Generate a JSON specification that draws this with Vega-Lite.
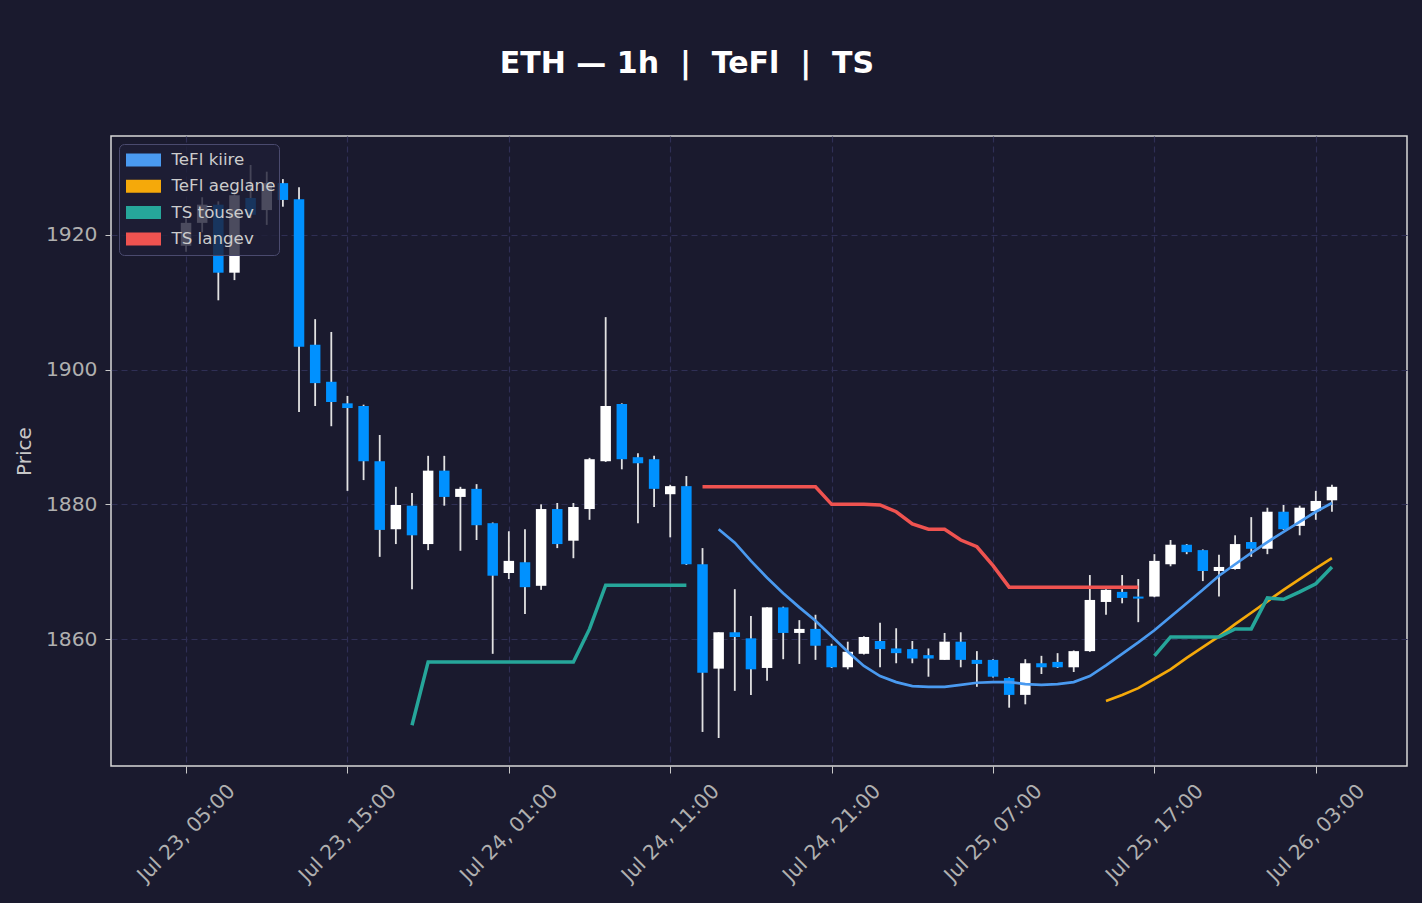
{
  "$schema": "https://vega.github.io/schema/vega-lite/v6.json",
  "width": 1296,
  "height": 630,
  "autosize": {"type": "none"},
  "padding": {"left": 111, "top": 136, "right": 15, "bottom": 137},
  "background": "#1a1a2e",
  "config": {
    "font": "DejaVu Sans",
    "view": {"stroke": "#d8d8d8", "strokeWidth": 1.5, "fill": "#1a1a2e"},
    "axis": {
      "domain": false,
      "grid": true,
      "gridColor": "#2f2f55",
      "gridDash": [6, 4],
      "gridWidth": 1.2,
      "tickColor": "#c8c8c8",
      "labelColor": "#b0b0b0",
      "labelFontSize": 20.3,
      "titleColor": "#c8c8c8",
      "titleFontSize": 20,
      "titleFontWeight": "normal"
    },
    "legend": {
      "orient": "top-left",
      "offset": 8,
      "padding": 3,
      "fillColor": "rgba(30,30,54,0.8)",
      "strokeColor": "#4a4a6e",
      "cornerRadius": 5,
      "labelColor": "#cccccc",
      "labelFontSize": 16.7,
      "labelOffset": 4,
      "symbolType": "stroke",
      "symbolSize": 1225,
      "symbolStrokeWidth": 13,
      "symbolOffset": -2.5,
      "clipHeight": 26,
      "rowPadding": 0.3,
      "symbolOpacity": 1
    }
  },
  "title": {
    "text": "ETH — 1h\u00a0\u00a0|\u00a0\u00a0TeFl\u00a0\u00a0|\u00a0\u00a0TS",
    "color": "#ffffff",
    "fontSize": 30,
    "fontWeight": "bold",
    "font": "DejaVu Sans",
    "anchor": "middle",
    "frame": "group",
    "dx": -72,
    "offset": 57
  },
  "datasets": {
    "candles": [
      {"t": "2023-07-23T05:00", "o": 1918.4, "h": 1922.5, "l": 1917.5, "c": 1921.8},
      {"t": "2023-07-23T06:00", "o": 1921.8, "h": 1925.6, "l": 1920.4, "c": 1924.5},
      {"t": "2023-07-23T07:00", "o": 1924.5, "h": 1925.0, "l": 1910.3, "c": 1914.4},
      {"t": "2023-07-23T08:00", "o": 1914.4, "h": 1926.5, "l": 1913.3, "c": 1925.9},
      {"t": "2023-07-23T09:00", "o": 1925.5, "h": 1930.4, "l": 1922.5, "c": 1923.0},
      {"t": "2023-07-23T10:00", "o": 1923.7, "h": 1929.4, "l": 1921.5, "c": 1927.7},
      {"t": "2023-07-23T11:00", "o": 1927.7, "h": 1928.3, "l": 1924.2, "c": 1925.2},
      {"t": "2023-07-23T12:00", "o": 1925.3, "h": 1927.1, "l": 1893.7, "c": 1903.4},
      {"t": "2023-07-23T13:00", "o": 1903.7, "h": 1907.5, "l": 1894.6, "c": 1898.0},
      {"t": "2023-07-23T14:00", "o": 1898.2, "h": 1905.6, "l": 1891.6, "c": 1895.2},
      {"t": "2023-07-23T15:00", "o": 1895.0, "h": 1896.1, "l": 1882.0, "c": 1894.3},
      {"t": "2023-07-23T16:00", "o": 1894.6, "h": 1894.8, "l": 1883.6, "c": 1886.4},
      {"t": "2023-07-23T17:00", "o": 1886.4, "h": 1890.3, "l": 1872.2, "c": 1876.2},
      {"t": "2023-07-23T18:00", "o": 1876.3, "h": 1882.6, "l": 1874.1, "c": 1879.9},
      {"t": "2023-07-23T19:00", "o": 1879.8, "h": 1881.7, "l": 1867.4, "c": 1875.4},
      {"t": "2023-07-23T20:00", "o": 1874.1, "h": 1887.2, "l": 1873.2, "c": 1885.0},
      {"t": "2023-07-23T21:00", "o": 1885.0, "h": 1887.2, "l": 1879.8, "c": 1881.1},
      {"t": "2023-07-23T22:00", "o": 1881.1, "h": 1882.6, "l": 1873.1, "c": 1882.3},
      {"t": "2023-07-23T23:00", "o": 1882.3, "h": 1883.0, "l": 1874.7, "c": 1876.9},
      {"t": "2023-07-24T00:00", "o": 1877.2, "h": 1877.3, "l": 1857.8, "c": 1869.4},
      {"t": "2023-07-24T01:00", "o": 1869.8, "h": 1876.0, "l": 1868.9, "c": 1871.6},
      {"t": "2023-07-24T02:00", "o": 1871.4, "h": 1876.3, "l": 1863.7, "c": 1867.7},
      {"t": "2023-07-24T03:00", "o": 1867.9, "h": 1880.0, "l": 1867.3, "c": 1879.3},
      {"t": "2023-07-24T04:00", "o": 1879.3, "h": 1880.2, "l": 1873.5, "c": 1874.1},
      {"t": "2023-07-24T05:00", "o": 1874.6, "h": 1880.2, "l": 1872.0, "c": 1879.6},
      {"t": "2023-07-24T06:00", "o": 1879.3, "h": 1886.9, "l": 1877.7, "c": 1886.7},
      {"t": "2023-07-24T07:00", "o": 1886.4, "h": 1907.8, "l": 1886.3, "c": 1894.6},
      {"t": "2023-07-24T08:00", "o": 1894.9, "h": 1895.0, "l": 1885.2, "c": 1886.7},
      {"t": "2023-07-24T09:00", "o": 1887.0, "h": 1887.6, "l": 1877.2, "c": 1886.1},
      {"t": "2023-07-24T10:00", "o": 1886.7, "h": 1887.2, "l": 1879.6, "c": 1882.3},
      {"t": "2023-07-24T11:00", "o": 1881.5, "h": 1882.9, "l": 1875.1, "c": 1882.7},
      {"t": "2023-07-24T12:00", "o": 1882.7, "h": 1884.2, "l": 1871.0, "c": 1871.1},
      {"t": "2023-07-24T13:00", "o": 1871.1, "h": 1873.5, "l": 1846.2, "c": 1855.0},
      {"t": "2023-07-24T14:00", "o": 1855.6, "h": 1861.0, "l": 1845.3, "c": 1861.0},
      {"t": "2023-07-24T15:00", "o": 1861.0, "h": 1867.4, "l": 1852.3, "c": 1860.3},
      {"t": "2023-07-24T16:00", "o": 1860.1, "h": 1863.4, "l": 1851.7, "c": 1855.5},
      {"t": "2023-07-24T17:00", "o": 1855.7, "h": 1864.7, "l": 1853.8, "c": 1864.7},
      {"t": "2023-07-24T18:00", "o": 1864.7, "h": 1864.8, "l": 1857.0, "c": 1860.9},
      {"t": "2023-07-24T19:00", "o": 1860.9, "h": 1862.8, "l": 1856.3, "c": 1861.5},
      {"t": "2023-07-24T20:00", "o": 1861.5, "h": 1863.6, "l": 1856.9, "c": 1859.0},
      {"t": "2023-07-24T21:00", "o": 1859.0, "h": 1859.3, "l": 1855.7, "c": 1855.8},
      {"t": "2023-07-24T22:00", "o": 1855.8, "h": 1859.6, "l": 1855.5, "c": 1858.1},
      {"t": "2023-07-24T23:00", "o": 1857.8, "h": 1860.4, "l": 1857.7, "c": 1860.3},
      {"t": "2023-07-25T00:00", "o": 1859.7, "h": 1862.4, "l": 1855.8, "c": 1858.5},
      {"t": "2023-07-25T01:00", "o": 1858.6, "h": 1861.6, "l": 1856.4, "c": 1857.9},
      {"t": "2023-07-25T02:00", "o": 1858.5, "h": 1859.7, "l": 1856.4, "c": 1857.1},
      {"t": "2023-07-25T03:00", "o": 1857.6, "h": 1858.6, "l": 1854.4, "c": 1857.1},
      {"t": "2023-07-25T04:00", "o": 1856.9, "h": 1860.9, "l": 1856.9, "c": 1859.6},
      {"t": "2023-07-25T05:00", "o": 1859.6, "h": 1861.0, "l": 1855.8, "c": 1856.9},
      {"t": "2023-07-25T06:00", "o": 1856.9, "h": 1858.2, "l": 1852.9, "c": 1856.3},
      {"t": "2023-07-25T07:00", "o": 1856.9, "h": 1857.0, "l": 1854.3, "c": 1854.4},
      {"t": "2023-07-25T08:00", "o": 1854.2, "h": 1854.3, "l": 1849.8, "c": 1851.7},
      {"t": "2023-07-25T09:00", "o": 1851.7, "h": 1857.0, "l": 1850.3, "c": 1856.4},
      {"t": "2023-07-25T10:00", "o": 1856.4, "h": 1857.5, "l": 1854.8, "c": 1855.8},
      {"t": "2023-07-25T11:00", "o": 1856.6, "h": 1857.9, "l": 1855.7, "c": 1855.8},
      {"t": "2023-07-25T12:00", "o": 1855.8, "h": 1858.3, "l": 1855.1, "c": 1858.2},
      {"t": "2023-07-25T13:00", "o": 1858.2, "h": 1869.5, "l": 1858.1, "c": 1865.8},
      {"t": "2023-07-25T14:00", "o": 1865.5, "h": 1867.4, "l": 1863.6, "c": 1867.3},
      {"t": "2023-07-25T15:00", "o": 1867.0, "h": 1869.5, "l": 1865.3, "c": 1866.1},
      {"t": "2023-07-25T16:00", "o": 1866.3, "h": 1868.9, "l": 1862.5, "c": 1866.0},
      {"t": "2023-07-25T17:00", "o": 1866.3, "h": 1872.6, "l": 1866.2, "c": 1871.6},
      {"t": "2023-07-25T18:00", "o": 1871.1, "h": 1874.7, "l": 1870.8, "c": 1874.0},
      {"t": "2023-07-25T19:00", "o": 1874.0, "h": 1874.1, "l": 1872.6, "c": 1872.9},
      {"t": "2023-07-25T20:00", "o": 1873.2, "h": 1873.3, "l": 1868.6, "c": 1870.1},
      {"t": "2023-07-25T21:00", "o": 1870.1, "h": 1872.5, "l": 1866.3, "c": 1870.7},
      {"t": "2023-07-25T22:00", "o": 1870.4, "h": 1875.4, "l": 1870.3, "c": 1874.1},
      {"t": "2023-07-25T23:00", "o": 1874.4, "h": 1878.1, "l": 1872.2, "c": 1873.4},
      {"t": "2023-07-26T00:00", "o": 1873.4, "h": 1879.5, "l": 1872.6, "c": 1878.9},
      {"t": "2023-07-26T01:00", "o": 1878.9, "h": 1879.9, "l": 1876.2, "c": 1876.3},
      {"t": "2023-07-26T02:00", "o": 1876.8, "h": 1879.8, "l": 1875.4, "c": 1879.5},
      {"t": "2023-07-26T03:00", "o": 1879.0, "h": 1882.0, "l": 1877.7, "c": 1880.5},
      {"t": "2023-07-26T04:00", "o": 1880.6, "h": 1882.9, "l": 1878.9, "c": 1882.6}
    ],
    "tefl": [
      {"t": "2023-07-24T14:00", "series": "TeFl kiire", "v": 1876.3},
      {"t": "2023-07-24T15:00", "series": "TeFl kiire", "v": 1874.3},
      {"t": "2023-07-24T16:00", "series": "TeFl kiire", "v": 1871.6},
      {"t": "2023-07-24T17:00", "series": "TeFl kiire", "v": 1869.1},
      {"t": "2023-07-24T18:00", "series": "TeFl kiire", "v": 1866.8},
      {"t": "2023-07-24T19:00", "series": "TeFl kiire", "v": 1864.7},
      {"t": "2023-07-24T20:00", "series": "TeFl kiire", "v": 1862.7},
      {"t": "2023-07-24T21:00", "series": "TeFl kiire", "v": 1860.4},
      {"t": "2023-07-24T22:00", "series": "TeFl kiire", "v": 1858.1},
      {"t": "2023-07-24T23:00", "series": "TeFl kiire", "v": 1856.0},
      {"t": "2023-07-25T00:00", "series": "TeFl kiire", "v": 1854.5},
      {"t": "2023-07-25T01:00", "series": "TeFl kiire", "v": 1853.6},
      {"t": "2023-07-25T02:00", "series": "TeFl kiire", "v": 1853.0},
      {"t": "2023-07-25T03:00", "series": "TeFl kiire", "v": 1852.9},
      {"t": "2023-07-25T04:00", "series": "TeFl kiire", "v": 1852.9},
      {"t": "2023-07-25T05:00", "series": "TeFl kiire", "v": 1853.2},
      {"t": "2023-07-25T06:00", "series": "TeFl kiire", "v": 1853.5},
      {"t": "2023-07-25T07:00", "series": "TeFl kiire", "v": 1853.6},
      {"t": "2023-07-25T08:00", "series": "TeFl kiire", "v": 1853.6},
      {"t": "2023-07-25T09:00", "series": "TeFl kiire", "v": 1853.3},
      {"t": "2023-07-25T10:00", "series": "TeFl kiire", "v": 1853.2},
      {"t": "2023-07-25T11:00", "series": "TeFl kiire", "v": 1853.3},
      {"t": "2023-07-25T12:00", "series": "TeFl kiire", "v": 1853.6},
      {"t": "2023-07-25T13:00", "series": "TeFl kiire", "v": 1854.5},
      {"t": "2023-07-25T14:00", "series": "TeFl kiire", "v": 1856.1},
      {"t": "2023-07-25T15:00", "series": "TeFl kiire", "v": 1857.8},
      {"t": "2023-07-25T16:00", "series": "TeFl kiire", "v": 1859.5},
      {"t": "2023-07-25T17:00", "series": "TeFl kiire", "v": 1861.3},
      {"t": "2023-07-25T18:00", "series": "TeFl kiire", "v": 1863.3},
      {"t": "2023-07-25T19:00", "series": "TeFl kiire", "v": 1865.3},
      {"t": "2023-07-25T20:00", "series": "TeFl kiire", "v": 1867.3},
      {"t": "2023-07-25T21:00", "series": "TeFl kiire", "v": 1869.4},
      {"t": "2023-07-25T22:00", "series": "TeFl kiire", "v": 1871.1},
      {"t": "2023-07-25T23:00", "series": "TeFl kiire", "v": 1872.8},
      {"t": "2023-07-26T00:00", "series": "TeFl kiire", "v": 1874.4},
      {"t": "2023-07-26T01:00", "series": "TeFl kiire", "v": 1875.9},
      {"t": "2023-07-26T02:00", "series": "TeFl kiire", "v": 1877.4},
      {"t": "2023-07-26T03:00", "series": "TeFl kiire", "v": 1878.9},
      {"t": "2023-07-26T04:00", "series": "TeFl kiire", "v": 1880.2},
      {"t": "2023-07-25T14:00", "series": "TeFl aeglane", "v": 1850.8},
      {"t": "2023-07-25T15:00", "series": "TeFl aeglane", "v": 1851.7},
      {"t": "2023-07-25T16:00", "series": "TeFl aeglane", "v": 1852.7},
      {"t": "2023-07-25T17:00", "series": "TeFl aeglane", "v": 1854.1},
      {"t": "2023-07-25T18:00", "series": "TeFl aeglane", "v": 1855.5},
      {"t": "2023-07-25T19:00", "series": "TeFl aeglane", "v": 1857.2},
      {"t": "2023-07-25T20:00", "series": "TeFl aeglane", "v": 1858.8},
      {"t": "2023-07-25T21:00", "series": "TeFl aeglane", "v": 1860.4},
      {"t": "2023-07-25T22:00", "series": "TeFl aeglane", "v": 1862.2},
      {"t": "2023-07-25T23:00", "series": "TeFl aeglane", "v": 1863.9},
      {"t": "2023-07-26T00:00", "series": "TeFl aeglane", "v": 1865.6},
      {"t": "2023-07-26T01:00", "series": "TeFl aeglane", "v": 1867.3},
      {"t": "2023-07-26T02:00", "series": "TeFl aeglane", "v": 1868.9},
      {"t": "2023-07-26T03:00", "series": "TeFl aeglane", "v": 1870.5},
      {"t": "2023-07-26T04:00", "series": "TeFl aeglane", "v": 1872.0}
    ],
    "ts": [
      {"t": "2023-07-23T19:00", "series": "TS tõusev", "seg": "u1", "v": 1847.2},
      {"t": "2023-07-23T20:00", "series": "TS tõusev", "seg": "u1", "v": 1856.6},
      {"t": "2023-07-23T21:00", "series": "TS tõusev", "seg": "u1", "v": 1856.6},
      {"t": "2023-07-23T22:00", "series": "TS tõusev", "seg": "u1", "v": 1856.6},
      {"t": "2023-07-23T23:00", "series": "TS tõusev", "seg": "u1", "v": 1856.6},
      {"t": "2023-07-24T00:00", "series": "TS tõusev", "seg": "u1", "v": 1856.6},
      {"t": "2023-07-24T01:00", "series": "TS tõusev", "seg": "u1", "v": 1856.6},
      {"t": "2023-07-24T02:00", "series": "TS tõusev", "seg": "u1", "v": 1856.6},
      {"t": "2023-07-24T03:00", "series": "TS tõusev", "seg": "u1", "v": 1856.6},
      {"t": "2023-07-24T04:00", "series": "TS tõusev", "seg": "u1", "v": 1856.6},
      {"t": "2023-07-24T05:00", "series": "TS tõusev", "seg": "u1", "v": 1856.6},
      {"t": "2023-07-24T06:00", "series": "TS tõusev", "seg": "u1", "v": 1861.5},
      {"t": "2023-07-24T07:00", "series": "TS tõusev", "seg": "u1", "v": 1868.0},
      {"t": "2023-07-24T08:00", "series": "TS tõusev", "seg": "u1", "v": 1868.0},
      {"t": "2023-07-24T09:00", "series": "TS tõusev", "seg": "u1", "v": 1868.0},
      {"t": "2023-07-24T10:00", "series": "TS tõusev", "seg": "u1", "v": 1868.0},
      {"t": "2023-07-24T11:00", "series": "TS tõusev", "seg": "u1", "v": 1868.0},
      {"t": "2023-07-24T12:00", "series": "TS tõusev", "seg": "u1", "v": 1868.0},
      {"t": "2023-07-25T17:00", "series": "TS tõusev", "seg": "u2", "v": 1857.5},
      {"t": "2023-07-25T18:00", "series": "TS tõusev", "seg": "u2", "v": 1860.3},
      {"t": "2023-07-25T19:00", "series": "TS tõusev", "seg": "u2", "v": 1860.3},
      {"t": "2023-07-25T20:00", "series": "TS tõusev", "seg": "u2", "v": 1860.3},
      {"t": "2023-07-25T21:00", "series": "TS tõusev", "seg": "u2", "v": 1860.3},
      {"t": "2023-07-25T22:00", "series": "TS tõusev", "seg": "u2", "v": 1861.5},
      {"t": "2023-07-25T23:00", "series": "TS tõusev", "seg": "u2", "v": 1861.5},
      {"t": "2023-07-26T00:00", "series": "TS tõusev", "seg": "u2", "v": 1866.1},
      {"t": "2023-07-26T01:00", "series": "TS tõusev", "seg": "u2", "v": 1865.9},
      {"t": "2023-07-26T02:00", "series": "TS tõusev", "seg": "u2", "v": 1867.0},
      {"t": "2023-07-26T03:00", "series": "TS tõusev", "seg": "u2", "v": 1868.2},
      {"t": "2023-07-26T04:00", "series": "TS tõusev", "seg": "u2", "v": 1870.7},
      {"t": "2023-07-24T13:00", "series": "TS langev", "seg": "d1", "v": 1882.6},
      {"t": "2023-07-24T14:00", "series": "TS langev", "seg": "d1", "v": 1882.6},
      {"t": "2023-07-24T15:00", "series": "TS langev", "seg": "d1", "v": 1882.6},
      {"t": "2023-07-24T16:00", "series": "TS langev", "seg": "d1", "v": 1882.6},
      {"t": "2023-07-24T17:00", "series": "TS langev", "seg": "d1", "v": 1882.6},
      {"t": "2023-07-24T18:00", "series": "TS langev", "seg": "d1", "v": 1882.6},
      {"t": "2023-07-24T19:00", "series": "TS langev", "seg": "d1", "v": 1882.6},
      {"t": "2023-07-24T20:00", "series": "TS langev", "seg": "d1", "v": 1882.6},
      {"t": "2023-07-24T21:00", "series": "TS langev", "seg": "d1", "v": 1880.0},
      {"t": "2023-07-24T22:00", "series": "TS langev", "seg": "d1", "v": 1880.0},
      {"t": "2023-07-24T23:00", "series": "TS langev", "seg": "d1", "v": 1880.0},
      {"t": "2023-07-25T00:00", "series": "TS langev", "seg": "d1", "v": 1879.9},
      {"t": "2023-07-25T01:00", "series": "TS langev", "seg": "d1", "v": 1878.9},
      {"t": "2023-07-25T02:00", "series": "TS langev", "seg": "d1", "v": 1877.1},
      {"t": "2023-07-25T03:00", "series": "TS langev", "seg": "d1", "v": 1876.3},
      {"t": "2023-07-25T04:00", "series": "TS langev", "seg": "d1", "v": 1876.3},
      {"t": "2023-07-25T05:00", "series": "TS langev", "seg": "d1", "v": 1874.7},
      {"t": "2023-07-25T06:00", "series": "TS langev", "seg": "d1", "v": 1873.7},
      {"t": "2023-07-25T07:00", "series": "TS langev", "seg": "d1", "v": 1870.9},
      {"t": "2023-07-25T08:00", "series": "TS langev", "seg": "d1", "v": 1867.7},
      {"t": "2023-07-25T09:00", "series": "TS langev", "seg": "d1", "v": 1867.7},
      {"t": "2023-07-25T10:00", "series": "TS langev", "seg": "d1", "v": 1867.7},
      {"t": "2023-07-25T11:00", "series": "TS langev", "seg": "d1", "v": 1867.7},
      {"t": "2023-07-25T12:00", "series": "TS langev", "seg": "d1", "v": 1867.7},
      {"t": "2023-07-25T13:00", "series": "TS langev", "seg": "d1", "v": 1867.7},
      {"t": "2023-07-25T14:00", "series": "TS langev", "seg": "d1", "v": 1867.7},
      {"t": "2023-07-25T15:00", "series": "TS langev", "seg": "d1", "v": 1867.7},
      {"t": "2023-07-25T16:00", "series": "TS langev", "seg": "d1", "v": 1867.7}
    ]
  },
  "encoding": {
    "x": {
      "field": "t",
      "type": "temporal",
      "title": null,
      "scale": {
        "padding": 0,
        "domain": [
          {"year": 2023, "month": 7, "date": 23, "hours": 0, "minutes": 21},
          {"year": 2023, "month": 7, "date": 26, "hours": 8, "minutes": 39}
        ]
      },
      "axis": {
        "values": [
          {"year": 2023, "month": 7, "date": 23, "hours": 5},
          {"year": 2023, "month": 7, "date": 23, "hours": 15},
          {"year": 2023, "month": 7, "date": 24, "hours": 1},
          {"year": 2023, "month": 7, "date": 24, "hours": 11},
          {"year": 2023, "month": 7, "date": 24, "hours": 21},
          {"year": 2023, "month": 7, "date": 25, "hours": 7},
          {"year": 2023, "month": 7, "date": 25, "hours": 17},
          {"year": 2023, "month": 7, "date": 26, "hours": 3}
        ],
        "format": "%b %d, %H:%M",
        "labelAngle": -45,
        "labelAlign": "center",
        "labelBaseline": "middle",
        "labelPadding": 60,
        "tickSize": 7,
        "labelFlush": false,
        "labelOverlap": false
      }
    }
  },
  "layer": [
    {
      "data": {"name": "candles"},
      "mark": {"type": "rule", "color": "#e2e2e2", "strokeWidth": 1.8},
      "encoding": {
        "y": {
          "field": "l",
          "type": "quantitative",
          "scale": {"domain": [1841.14, 1934.7], "nice": false, "zero": false},
          "axis": {
            "values": [1860, 1880, 1900, 1920],
            "format": "d",
            "title": "Price",
            "tickSize": 6,
            "labelPadding": 8,
            "titlePadding": 11
          }
        },
        "y2": {"field": "h"}
      }
    },
    {
      "data": {"name": "candles"},
      "mark": {"type": "bar", "width": 10.5},
      "encoding": {
        "y": {"field": "o", "type": "quantitative"},
        "y2": {"field": "c"},
        "color": {
          "condition": {"test": "datum.c >= datum.o", "value": "#ffffff"},
          "value": "#0091ff"
        }
      }
    },
    {
      "data": {"name": "tefl"},
      "mark": {"type": "line", "strokeWidth": 2.7},
      "encoding": {
        "y": {"field": "v", "type": "quantitative"},
        "color": {
          "field": "series",
          "type": "nominal",
          "scale": {
            "domain": ["TeFl kiire", "TeFl aeglane", "TS tõusev", "TS langev"],
            "range": ["#4a9af0", "#f5a90a", "#26a69a", "#ef5350"]
          },
          "legend": {"title": null}
        }
      }
    },
    {
      "data": {"name": "ts"},
      "mark": {"type": "line", "strokeWidth": 3.5},
      "encoding": {
        "y": {"field": "v", "type": "quantitative"},
        "detail": {"field": "seg"},
        "color": {
          "field": "series",
          "type": "nominal",
          "scale": {
            "domain": ["TeFl kiire", "TeFl aeglane", "TS tõusev", "TS langev"],
            "range": ["#4a9af0", "#f5a90a", "#26a69a", "#ef5350"]
          },
          "legend": {"title": null}
        }
      }
    }
  ]
}
